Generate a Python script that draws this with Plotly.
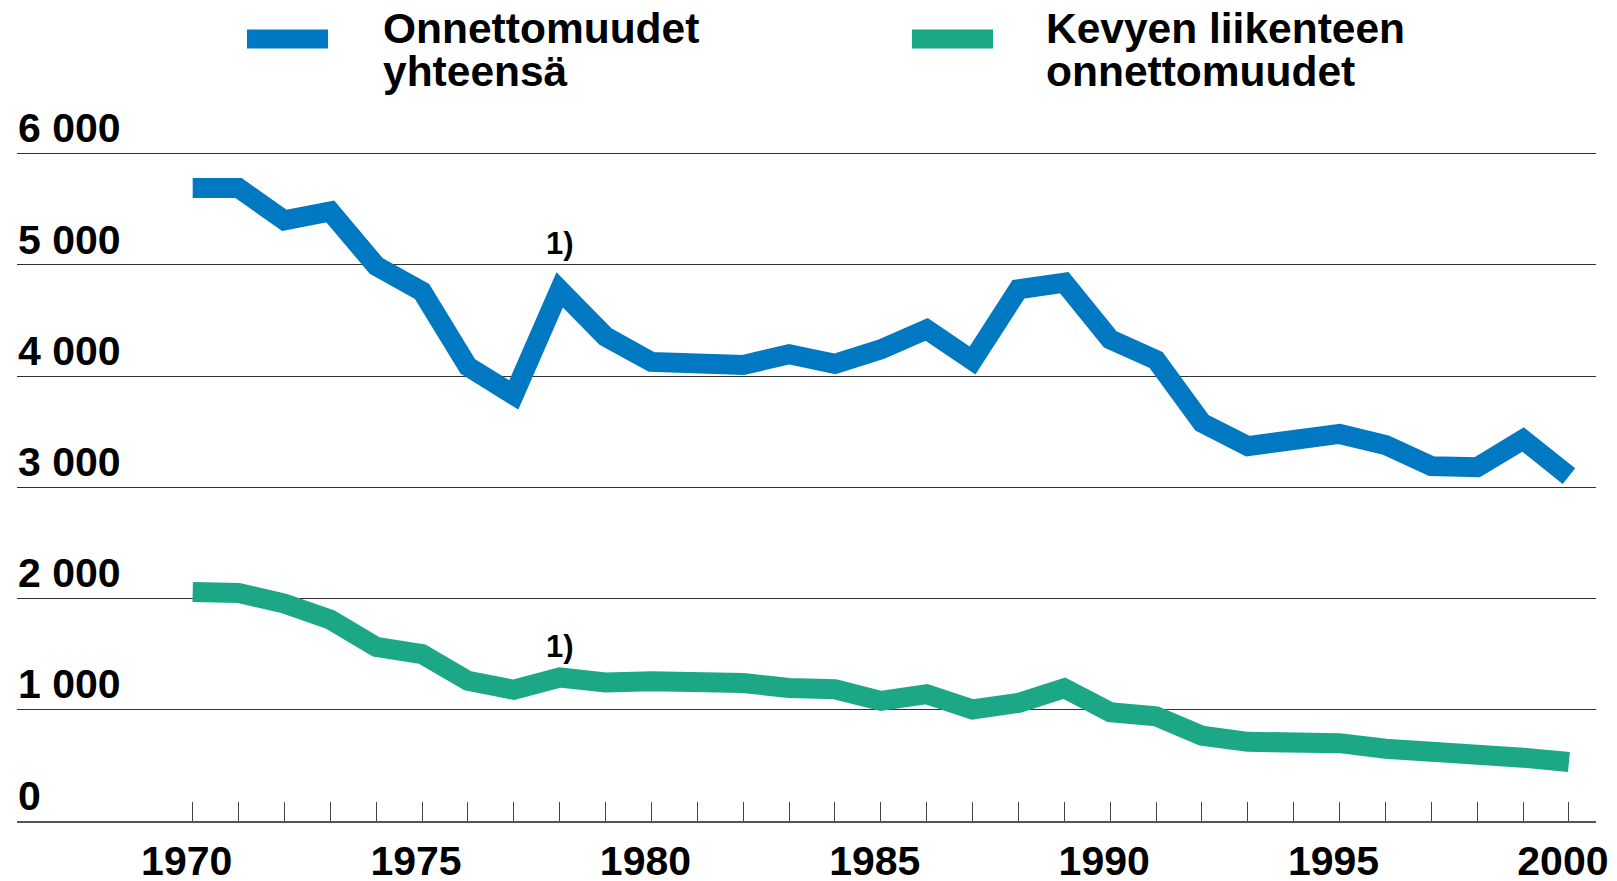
import plotly.graph_objects as go

years = list(range(1970, 2001))
total_accidents = [5690, 5690, 5400, 5480, 4990, 4760, 4085, 3830, 4775, 4355,
                   4127, 4110, 4100, 4196, 4110, 4240, 4420, 4140, 4780, 4840,
                   4330, 4145, 3580, 3370, 3420, 3480, 3380, 3190, 3180, 3430, 3100]
light_traffic = [2058, 2050, 1955, 1810, 1566, 1500, 1260, 1180, 1290, 1245,
                 1257, 1262, 1240, 1196, 1185, 1080, 1140, 1003, 1062, 1194,
                 979, 942, 767, 712, 712, 700, 650, 635, 587, 569, 530]
series_names = [["Onnettomuudet", "yhteensä"], ["Kevyen liikenteen", "onnettomuudet"]]
y_ticks = [0, 1000, 2000, 3000, 4000, 5000, 6000]
y_ticktext = ["0", "1 000", "2 000", "3 000", "4 000", "5 000", "6 000"]
x_label_years = [1970, 1975, 1980, 1985, 1990, 1995, 2000]
note_text = "1)"
note_year = 1978
note_y = [5190, 1565]

BLUE = "#0079C2"
GREEN = "#1CA886"
FONT = "Liberation Sans, Arial, sans-serif"

OFF = 8  # page body margin
W, H = 1609, 873
ML, MR, MT, MB = 9, 21, 90, 60
PW, PH = W - ML - MR, H - MT - MB


def px_x(px):
    return (px - OFF - ML) / PW


def px_y(py):
    return (OFF + H - MB - py) / PH


fig = go.Figure()
fig.add_trace(go.Scatter(x=years, y=total_accidents, mode="lines",
                         line=dict(color=BLUE, width=20), name=" ".join(series_names[0]),
                         hoverinfo="x+y"))
fig.add_trace(go.Scatter(x=years, y=light_traffic, mode="lines",
                         line=dict(color=GREEN, width=20), name=" ".join(series_names[1]),
                         hoverinfo="x+y"))

# notes "1)"
for yv in note_y:
    fig.add_annotation(x=note_year, y=yv, xref="x", yref="y", text=f"<b>{note_text}</b>",
                       showarrow=False, font=dict(family=FONT, size=31, color="#000"),
                       xanchor="center", yanchor="middle")

# manual legend
legend_items = [
    (BLUE, 247, 328, 381, series_names[0]),
    (GREEN, 912, 993, 1044, series_names[1]),
]
for color, x0, x1, tx, lines in legend_items:
    fig.add_shape(type="rect", xref="paper", yref="paper",
                  x0=px_x(x0), x1=px_x(x1), y0=px_y(48.5), y1=px_y(29.5),
                  fillcolor=color, line=dict(width=0))
    for i, ln in enumerate(lines):
        fig.add_annotation(x=px_x(tx), y=px_y(29 + 43 * i), xref="paper", yref="paper",
                           text=f"<b>{ln}</b>", showarrow=False,
                           font=dict(family=FONT, size=42.5, color="#000"),
                           xanchor="left", yanchor="middle")

fig.update_layout(
    width=W, height=H,
    margin=dict(l=ML, r=MR, t=MT, b=MB, autoexpand=False),
    paper_bgcolor="white", plot_bgcolor="white",
    showlegend=False,
    font=dict(family=FONT, color="#000"),
)
fig.update_xaxes(
    range=[1966.17, 2000.59],
    tickvals=years,
    ticktext=[f"<b>{y}</b>" if y in x_label_years else "" for y in years],
    ticks="inside", ticklen=19, tickwidth=1, tickcolor="#444",
    showgrid=False, zeroline=False,
    showline=True, linecolor="#555", linewidth=2,
    tickfont=dict(family=FONT, size=41, color="#000"),
    ticklabelstandoff=3, ticklabelshift=-6,
    automargin=False,
)
fig.update_yaxes(
    range=[0, 6500],
    tickvals=y_ticks,
    ticktext=[f"<b>{t}</b>" for t in y_ticktext],
    ticklabelposition="inside top",
    ticklabelstandoff=-2, ticklabelshift=3,
    ticks="", showline=False, zeroline=False,
    showgrid=True, gridcolor="#333", gridwidth=1.2,
    tickfont=dict(family=FONT, size=41, color="#000"),
    automargin=False,
)

fig.write_html("out.html")
